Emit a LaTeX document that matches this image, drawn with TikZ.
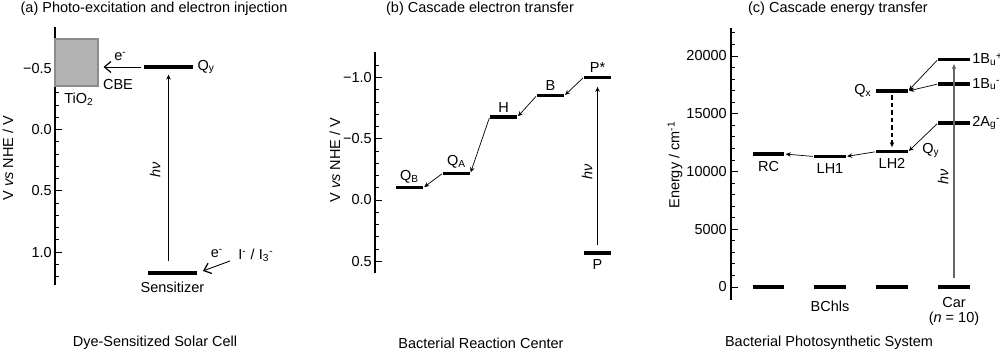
\documentclass[tikz,border=0pt]{standalone}
\usepackage{fontspec}
\setmainfont{Liberation Sans}
\usetikzlibrary{arrows.meta,positioning}
\definecolor{boxgray}{gray}{0.7}
\definecolor{boxedge}{gray}{0.55}
\definecolor{hvgray}{gray}{0.4}

\begin{document}
\begin{tikzpicture}[x=0.2mm, y=-0.2mm, ->, >={Stealth[length=1mm,width=0.9mm]},
  every node/.style={font=\fontsize{8.25}{10}\selectfont, inner sep=0.5pt},
  lvl/.style={fill=black, inner sep=0pt, minimum height=0.7mm, minimum width=#1},
  lvl/.default=5.4mm,
  axis/.style={-, line width=0.8pt},
  tickmark/.style={-, line width=0.5pt},
  et/.style={line width=0.4pt, shorten >=0.6pt, shorten <=0.6pt},
  hv/.style={line width=0.5pt},
  inj/.style={line width=0.5pt, -{Straight Barb[length=1.3mm,width=2.2mm,line width=0.7pt]}}]
\useasboundingbox (0,0) rectangle (1000,353);

% (a) dye-sensitized solar cell
\node (titleA) at (154,8.5) {(a) Photo-excitation and electron injection};
\draw[axis] (55,27) -- (55,285);
\foreach \k in {-7,...,12} \draw[tickmark] (55,{129.5+12.26*\k}) -- ++(4,0);
\foreach \k/\t in {-5/−0.5, 0/0.0, 5/0.5, 10/1.0} {
  \draw[tickmark] (55,{129.5+12.26*\k}) -- ++(7,0);
  \node[anchor=east] (tA\k) at (53,{129.5+12.26*\k}) {\t};
}
\node[rotate=90] (yA) at (8,158) {V \textit{vs} NHE / V};
\node[draw=boxedge, fill=boxgray, line width=0.6pt, inner sep=0pt, minimum width=8.6mm, minimum height=9.4mm] (cb) at (76.5,62.5) {};
\node (cbeL) at (118,85) {CBE};
\node (tio) at (79,99) {TiO\textsubscript{2}};
\node[lvl=9.8mm] (Qy) at (168.5,67) {};
\node[right=0.6mm of Qy] (QyL) {Q\textsubscript{y}};
\node[lvl=9.8mm] (Sens) at (172.5,273) {};
\node[below=1.2mm of Sens] (SensL) {Sensitizer};
\draw[inj, shorten <=0.6mm, shorten >=1mm] (Qy.west) -- (Qy.west -| cb.east);
\node (eA) at (120.5,57) {e\textsuperscript{-}};
\draw[hv, shorten <=1.9mm, shorten >=1.1mm] (Sens.north -| Qy) -- (Qy.south);
\node[rotate=90] (hvA) at (155,170) {\textit{hν}};
\coordinate (redox) at (230,261);
\draw[inj, shorten >=1.2mm] (redox) -- (Sens.east);
\node (eA2) at (217,254) {e\textsuperscript{-}};
\node (iod) at (256,255) {I\textsuperscript{-} / I\textsubscript{3}\textsuperscript{-}};
\node (capA) at (155,343) {Dye-Sensitized Solar Cell};

% (b) bacterial reaction center
\node (titleB) at (480,8.5) {(b) Cascade electron transfer};
\draw[axis] (375,52) -- (375,273);
\foreach \k in {-11,...,5} \draw[tickmark] (375,{200+12.24*\k}) -- ++(4,0);
\foreach \k/\t in {-10/−1.0, -5/−0.5, 0/0.0, 5/0.5} {
  \draw[tickmark] (375,{200+12.24*\k}) -- ++(7,0);
  \node[anchor=east] (tB\k) at (373,{200+12.24*\k}) {\t};
}
\node[rotate=90] (yB) at (335,160) {V \textit{vs} NHE / V};
\node[lvl] (QB) at (409.5,187.7) {};
\node[lvl] (QA) at (456.5,173.3) {};
\node[lvl] (H) at (503.5,117) {};
\node[lvl] (B) at (550.5,95.7) {};
\node[lvl] (Ps) at (597.5,77.3) {};
\node[lvl] (P) at (597.5,253) {};
\node[above=0.3mm of QB] (QBL) {Q\textsubscript{B}};
\node[above=0.3mm of QA] (QAL) {Q\textsubscript{A}};
\node[above=0.3mm of H] (HL) {H};
\node[above=0.3mm of B] (BL) {B};
\node[above=0.3mm of Ps] (PsL) {P*};
\node[below=0.6mm of P] (PL) {P};
\path (Ps.west) edge[et] (B.east);
\path (B.west) edge[et] (H.east);
\path (H.west) edge[et] (QA.east);
\path (QA.west) edge[et] (QB.east);
\draw[hv, line width=0.7pt, shorten <=1.1mm, shorten >=1.5mm] (P.north) -- (Ps.south);
\node[rotate=90] (hvB) at (587,172) {\textit{hν}};
\node (capB) at (481,343) {Bacterial Reaction Center};

% (c) bacterial photosynthetic system
\node (titleC) at (838,8.5) {(c) Cascade energy transfer};
\draw[axis] (731,28) -- (731,300);
\foreach \k in {0,...,22} \draw[tickmark] (731,{287-11.55*\k}) -- ++(4,0);
\foreach \k/\t in {0/0, 5/5000, 10/10000, 15/15000, 20/20000} {
  \draw[tickmark] (731,{287-11.55*\k}) -- ++(7,0);
  \node[anchor=east] (tC\k) at (728,{287-11.55*\k}) {\t};
}
\node[rotate=90] (yC) at (675,165) {Energy / cm\textsuperscript{-1}};
\foreach \c/\x in {1/768.5, 2/830, 3/892, 4/954}
  \node[lvl=6.3mm] (g\c) at (\x,287) {};
\node[lvl=6.3mm] (RC) at (768.5,154) {};
\node[lvl=6.3mm] (LHa) at (830,156.5) {};
\node[lvl=6.3mm] (LHb) at (892,151.7) {};
\node[lvl=6.3mm] (Qx) at (892,91) {};
\node[lvl=6.3mm] (Bp) at (954,59.5) {};
\node[lvl=6.3mm] (Bm) at (954,84) {};
\node[lvl=6.3mm] (Ag) at (954,123) {};
\node[below=0.8mm of RC] (RCL) {RC};
\node[below=0.8mm of LHa] (LHaL) {LH1};
\node[below=0.6mm of LHb] (LHbL) {LH2};
\node[left=0.6mm of Qx] (QxL) {Q\textsubscript{x}};
\node[right=2.6mm of LHb, yshift=0.3mm] (QyC) {Q\textsubscript{y}};
\node[right=0.2mm of Bp] (BpL) {1B\textsubscript{u}\kern-0.2pt\textsuperscript{+}};
\node[right=0.2mm of Bm] (BmL) {1B\textsubscript{u}\kern-0.2pt\textsuperscript{-}};
\node[right=0.2mm of Ag] (AgL) {2A\textsubscript{g}\kern-0.2pt\textsuperscript{-}};
\node[below=2.2mm of g2] (bchl) {BChls};
\node[below=1.4mm of g4] (car) {Car};
\node[below=0.3mm of car] (carn) {(\textit{n} = 10)};
\path (Bp.west) edge[et] (Qx.east);
\path (Bm.west) edge[et] (Qx.east);
\path (Ag.west) edge[et] (LHb.east);
\path (LHb.west) edge[et] (LHa.east);
\path (LHa.west) edge[et] (RC.east);
\draw[et, line width=0.9pt, dash pattern=on 0.9mm off 0.6mm, shorten <=0.4mm, shorten >=0.5mm] (Qx.south) -- (LHb.north);
\draw[hv, draw=hvgray, fill=hvgray, line width=0.7pt, shorten <=1.4mm, shorten >=0.5mm] (g4.north) -- (Bp.south);
\node[rotate=90] (hvC) at (943,177) {\textit{hν}};
\node (capC) at (829,343) {Bacterial Photosynthetic System};
\end{tikzpicture}
\end{document}
